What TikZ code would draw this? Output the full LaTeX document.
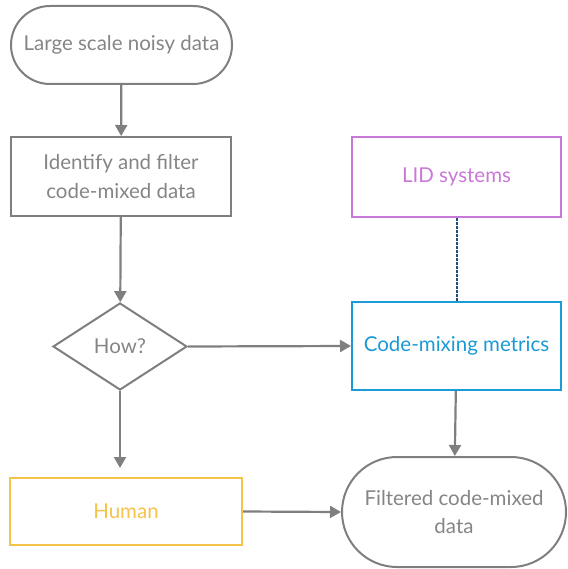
\documentclass[tikz,border=0pt]{standalone}
\usepackage{fontspec}
\setmainfont{Lato}
\usetikzlibrary{shapes.geometric,shapes.misc,arrows.meta}
\definecolor{gr}{HTML}{7F7F7F}
\definecolor{grtext}{HTML}{858585}
\definecolor{lidc}{HTML}{C978D8}
\definecolor{cmc}{HTML}{1A9AD6}
\definecolor{humc}{HTML}{F5C24A}
\definecolor{dashc}{HTML}{1F4E79}
\begin{document}
\begin{tikzpicture}[x=1pt,y=-1pt,
  base/.style={draw=gr, line width=2pt, text=grtext, font=\fontsize{20.5}{28.5}\selectfont, align=center, inner sep=0pt},
  term/.style={base, rounded rectangle},
  proc/.style={base, rectangle},
  dec/.style={base, diamond},
  conn/.style={draw=gr, line width=2.2pt, -{Triangle[width=12pt,length=11pt]}},
  dotc/.style={draw=dashc, line width=2pt, dash pattern=on 2.5pt off 1.5pt}]
\useasboundingbox (0,0) rectangle (567,569);
\node[term, minimum width=221pt, minimum height=78pt] (start) at (121.5,45) {Large scale noisy data};
\node[proc, minimum width=220pt, minimum height=79pt] (ident) at (121,176.5) {Identify and filter\\code-mixed data};
\node[dec, minimum width=134pt, minimum height=87pt] (how) at (120,346.5) {How?};
\node[proc, draw=lidc, text=lidc, minimum width=209pt, minimum height=80pt] (lid) at (456.5,177) {LID systems};
\node[proc, draw=cmc, text=cmc, minimum width=209pt, minimum height=88pt] (cm) at (456.5,346) {Code-mixing metrics};
\node[proc, draw=humc, text=humc, minimum width=232pt, minimum height=67pt] (hum) at (126,511.5) {Human};
\node[term, minimum width=224pt, minimum height=110pt] (filt) at (454,512) {Filtered code-mixed\\data};
\coordinate (hend) at (120,468);
\draw[conn] (start) -- (ident);
\draw[conn] (ident) -- (how);
\draw[conn] (how.east) -- (cm.west);
\draw[dotc] (lid) -- (cm);
\draw[conn] (cm) -- (filt);
\draw[conn] (how.south) -- (hend);
\draw[conn] (hum.east) -- (filt.west);
\end{tikzpicture}
\end{document}
